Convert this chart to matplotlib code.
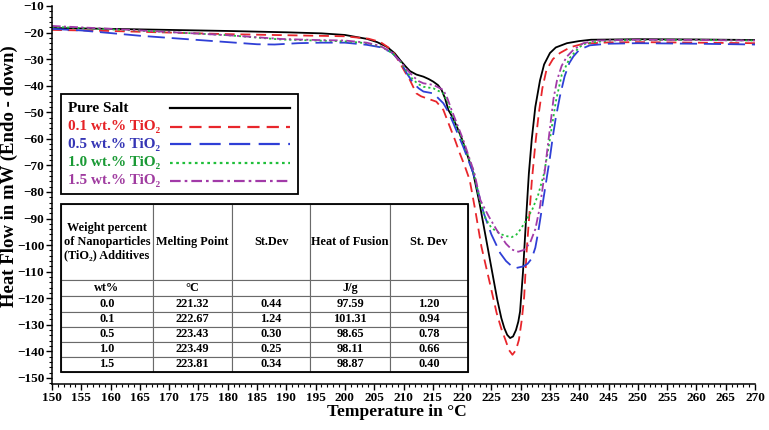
import matplotlib
matplotlib.use("Agg")
import matplotlib.pyplot as plt
from matplotlib.patches import Rectangle

plt.rcParams["font.family"] = ["Liberation Serif", "DejaVu Serif"]
plt.rcParams["font.weight"] = "bold"

# DSC curves (temperature in C, heat flow in mW)
pure_t = [150, 160, 170, 180, 190, 196, 200, 203.8, 205.5, 207.2, 208.5, 209.4, 210.3,
          211.1, 212.2, 213.4, 214.3, 215.1, 215.9, 216.5, 217.1, 217.65, 218.4, 219.1,
          220.0, 220.8, 221.9, 223.0, 224.0, 225.0, 226.0, 226.7, 227.2, 227.7, 228.2,
          228.7, 229.2, 229.6, 229.9, 230.4, 230.9, 231.4, 231.9, 232.5, 233.3, 234.0,
          235.0, 236.0, 237.9, 240.0, 242.0, 250, 260, 270]
pure_v = [-18.3, -18.6, -19.0, -19.4, -19.9, -20.3, -20.9, -22.4, -23.6, -25.4, -27.8, -30.3,
          -32.6, -34.5, -35.8, -36.6, -37.5, -38.5, -39.8, -41.6, -44.8, -49.1, -52.0, -55.4,
          -60.2, -65.4, -72.9, -84.5, -96.5, -108.5, -120.5, -127.5, -131.2, -133.8, -135.0,
          -134.4, -132.0, -128.8, -125.0, -110.0, -91.0, -73.0, -60.0, -48.0, -38.0, -32.0,
          -27.7, -25.6, -24.0, -23.2, -22.7, -22.5, -22.6, -22.8]

tio1_t = [150, 160, 170, 180, 190, 200, 204, 206, 208, 209.4, 210.3, 211.1, 212.2, 213.0,
          213.9, 215.6, 216.8, 217.9, 218.8, 219.6, 220.5, 221.3, 222.3, 223.3, 224.6, 225.9,
          226.7, 227.4, 228.0, 228.6, 229.2, 229.7, 230.2, 230.6, 231.0, 231.5, 231.9, 232.5,
          233.1, 233.7, 234.4, 235.5, 236.7, 238.5, 240.7, 245, 250, 260, 270]
tio1_v = [-19.0, -19.4, -20.0, -20.6, -21.0, -21.4, -22.3, -23.5, -26.5, -31.5, -35.0, -37.9,
          -42.9, -44.0, -44.7, -46.0, -49.1, -55.4, -60.5, -65.4, -70.5, -75.5, -87.5, -100.6,
          -113.0, -125.6, -131.5, -135.7, -139.5, -141.3, -139.5, -135.7, -128.0, -119.4,
          -103.0, -88.0, -76.0, -62.0, -50.3, -41.0, -34.1, -30.0, -27.7, -25.5, -24.2, -23.7,
          -23.6, -23.8, -24.0]

tio5_t = [150, 155, 160, 165, 170, 175, 180, 185, 188, 192, 196, 200, 203.7, 206, 208,
          209.5, 210.6, 211.7, 212.6, 213.4, 215.1, 216.8, 217.7, 218.5, 220.2, 221.9, 223.7,
          225.0, 226.5, 227.5, 228.4, 229.3, 230.5, 231.2, 231.9, 232.5, 233.0, 233.5, 234.0,
          234.5, 235.0, 235.5, 236.0, 236.7, 237.5, 238.3, 239.0, 240.0, 241.8, 245, 250, 260, 270]
tio5_v = [-18.6, -19.2, -20.2, -21.2, -22.0, -22.8, -23.6, -24.4, -24.5, -24.0, -23.8, -23.8,
          -24.6, -25.5, -27.5, -31.0, -35.5, -39.1, -41.0, -42.2, -42.9, -46.6, -50.0, -54.1,
          -63.0, -72.9, -88.0, -96.0, -103.0, -106.0, -107.8, -108.6, -108.0, -107.0, -105.0,
          -101.0, -95.0, -88.0, -81.0, -74.0, -67.0, -59.0, -52.0, -44.0, -36.5, -31.5, -29.0,
          -26.5, -24.8, -24.2, -24.0, -24.2, -24.5]

tio10_t = [150, 160, 170, 180, 189, 195, 200, 203.7, 206, 208, 209.5, 210.6, 211.7, 212.6,
           213.4, 215.1, 216.8, 217.5, 218.2, 220.2, 221.9, 223.1, 224.0, 225.0, 226.5, 227.5,
           228.5, 229.3, 229.9, 231.0, 232.0, 233.0, 234.0, 235.0, 236.0, 237.0, 238.4, 240.0,
           241.2, 245, 250, 260, 270]
tio10_v = [-17.8, -18.8, -19.8, -21.0, -22.6, -23.0, -23.3, -24.0, -25.2, -27.5, -31.0, -35.0,
           -37.9, -39.5, -40.4, -41.0, -42.9, -46.0, -50.4, -61.7, -71.7, -84.0, -90.0, -93.5,
           -95.8, -96.6, -97.0, -96.0, -94.3, -90.5, -86.5, -81.0, -73.0, -60.0, -46.0, -36.0,
           -29.5, -25.5, -24.0, -23.0, -22.8, -22.8, -23.0]

tio15_t = [150, 160, 170, 180, 189, 195, 200, 203.7, 206, 208, 209.5, 210.6, 211.7, 212.6,
           213.4, 215.1, 216.8, 217.5, 218.2, 220.2, 222.1, 223.1, 224.5, 225.9, 227.5, 228.5,
           229.6, 230.6, 231.6, 232.5, 233.3, 233.9, 234.5, 235.0, 235.6, 236.2, 237.0, 237.9,
           239.0, 240.7, 243.0, 250, 260, 270]
tio15_v = [-17.5, -18.6, -19.8, -21.0, -22.4, -22.8, -23.0, -23.8, -25.0, -27.5, -31.0, -34.0,
           -36.6, -38.3, -39.1, -39.7, -41.6, -44.8, -49.1, -60.4, -72.9, -83.0, -89.0, -94.3,
           -99.5, -101.7, -102.5, -101.8, -99.2, -94.0, -85.5, -76.0, -65.0, -56.0, -45.0,
           -38.0, -32.5, -29.0, -26.5, -24.0, -23.0, -22.7, -22.8, -23.0]

labels = ["Pure Salt", "0.1 wt.% TiO₂", "0.5 wt.% TiO₂", "1.0 wt.% TiO₂", "1.5 wt.% TiO₂"]
line_colors = ["#000000", "#e8262c", "#2f3fd6", "#1fbf3a", "#a23aa8"]
text_colors = ["#000000", "#e52226", "#3535b5", "#1a9a35", "#a03ca0"]
styles = ["-", (0, (5.5, 3.2)), (0, (9.5, 3.8)), (0, (1.2, 1.6)), (0, (4.8, 1.8, 1.2, 1.8))]

# table values
table_header = ["Weight percent\nof Nanoparticles\n(TiO₂) Additives", "Melting Point",
                "St.Dev", "Heat of Fusion", "St. Dev"]
table_units = ["wt%", "°C", "", "J/g", ""]
wt_pct = ["0.0", "0.1", "0.5", "1.0", "1.5"]
melting_point = ["221.32", "222.67", "223.43", "223.49", "223.81"]
mp_std = ["0.44", "1.24", "0.30", "0.25", "0.34"]
heat_fusion = ["97.59", "101.31", "98.65", "98.11", "98.87"]
hf_std = ["1.20", "0.94", "0.78", "0.66", "0.40"]

fig = plt.figure(figsize=(7.69, 4.30), dpi=100)
ax = fig.add_axes([52 / 769, 1 - 384 / 430, 703 / 769, 378 / 430])

series = [(pure_t, pure_v), (tio1_t, tio1_v), (tio5_t, tio5_v),
          (tio10_t, tio10_v), (tio15_t, tio15_v)]
for (t, v), col, ls in zip(series, line_colors, styles):
    ax.plot(t, v, color=col, linestyle=ls, linewidth=1.3)

ax.set_xlim(150, 270)
ax.set_ylim(-152.3, -10)
ax.set_xticks(range(150, 271, 5))
ax.set_xticks(range(150, 271, 1), minor=True)
ax.set_yticks(range(-150, -9, 10))
ax.set_yticks(range(-152, -9, 2), minor=True)
ax.tick_params(which="major", direction="out", length=4, width=1, labelsize=9.5, pad=1.5)
ax.tick_params(which="minor", direction="out", length=2, width=0.8)
for lab in ax.get_xticklabels() + ax.get_yticklabels():
    lab.set_fontweight("bold")
for side in ["top", "right"]:
    ax.spines[side].set_visible(False)
for side in ["left", "bottom"]:
    ax.spines[side].set_linewidth(1.1)

ax.set_xlabel("Temperature in °C", fontsize=12.5, fontweight="bold")
ax.xaxis.set_label_coords(0.491, -0.054)
ax.set_ylabel("Heat Flow in mW (Endo - down)", fontsize=13.5, fontweight="bold")
ax.yaxis.set_label_coords(-0.048, 0.55)

# legend drawn by hand: text left-aligned, sample line on the right
ax.add_patch(Rectangle((9 / 703, (384 - 194) / 378), 237 / 703, 100 / 378,
                       transform=ax.transAxes, fill=True, facecolor="white",
                       edgecolor="black", linewidth=1.3, zorder=5))
row_py = [108.3, 126.7, 144.3, 162.7, 181.0]
for lab, lc, tc, ls, py in zip(labels, line_colors, text_colors, styles, row_py):
    ya = (384 - py) / 378
    ax.text(16 / 703, ya, lab, transform=ax.transAxes, fontsize=11, fontweight="bold",
            color=tc, va="center", ha="left", zorder=6)
    ax.plot([118 / 703, 238 / 703], [ya, ya], transform=ax.transAxes, color=lc,
            linestyle=ls, linewidth=1.6, zorder=6, clip_on=False)

# data table
rows = [table_header, table_units]
for i in range(len(wt_pct)):
    rows.append([wt_pct[i], melting_point[i], mp_std[i], heat_fusion[i], hf_std[i]])
col_w = [91.6, 79, 78.4, 79.3, 78]
row_h = [75, 16.7, 15, 15, 15, 15, 15]
tb = ax.table(cellText=rows, cellLoc="center", colWidths=[w / 406.3 for w in col_w],
              bbox=[9 / 703, 12 / 378, 407 / 703, 168 / 378], zorder=5)
tb.auto_set_font_size(False)
tb.set_fontsize(8.8)
for (r, c), cell in tb.get_celld().items():
    cell.set_height(row_h[r] / 167.7)
    cell.set_edgecolor("#6a6a6a")
    cell.set_linewidth(0.8)
    cell.set_facecolor("white")
    cell.get_text().set_fontweight("bold")
    cell.get_text().set_linespacing(1.2)
ax.add_patch(Rectangle((9 / 703, 12 / 378), 407 / 703, 168 / 378, transform=ax.transAxes,
                       fill=False, edgecolor="black", linewidth=1.3, zorder=7))

fig.savefig("out.png", dpi=100)
